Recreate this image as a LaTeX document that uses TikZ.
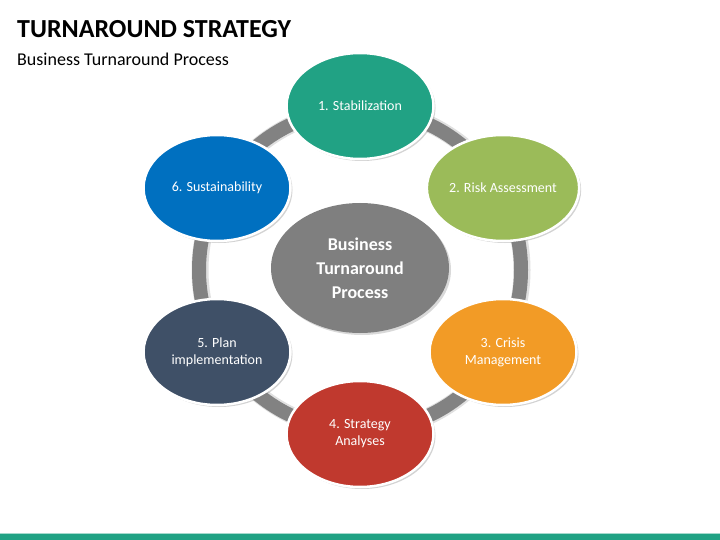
\documentclass[tikz,border=0pt]{standalone}
\usepackage{fontspec}
\setmainfont{Carlito}
\usetikzlibrary{shadows,shapes.geometric}
\definecolor{cteal}{HTML}{21A284}
\definecolor{cgreen}{HTML}{9BBB59}
\definecolor{corange}{HTML}{F29B26}
\definecolor{cred}{HTML}{C0392E}
\definecolor{cslate}{HTML}{3F5067}
\definecolor{cblue}{HTML}{0070C0}
\definecolor{cgray}{HTML}{7F7F7F}
\definecolor{cring}{HTML}{828282}
\tikzset{
  stage/.style={ellipse, draw=white, line width=2.5pt, minimum width=147pt, minimum height=106pt,
    text=white, font=\fontsize{14}{17}\selectfont, align=center, inner sep=0pt,
    drop shadow={opacity=0.35, shadow xshift=2pt, shadow yshift=-2pt}},
  hub/.style={ellipse, fill=cgray, minimum width=178pt, minimum height=130pt,
    text=white, font=\fontsize{18}{24}\selectfont\bfseries, align=center, inner sep=0pt,
    drop shadow={opacity=0.3, shadow xshift=2pt, shadow yshift=-2pt}},
}
\begin{document}
\begin{tikzpicture}[x=1pt,y=-1pt]
\useasboundingbox (0,0) rectangle (720,540);
% title
\node[anchor=base west, inner sep=0pt, font=\fontsize{26}{30}\selectfont\bfseries] (title) at (17,38) {TURNAROUND STRATEGY};
\node[anchor=base west, inner sep=0pt, font=\fontsize{18}{22}\selectfont] (subtitle) at (17,66) {Business Turnaround Process};
% ring
\draw[black!12, line width=17pt] (361,270) circle[radius=161];
\draw[cring, line width=14pt] (360,270) circle[radius=161];
% hub
\node[hub] (hub) at (360,268) {Business\\Turnaround\\Process};
% stages
\node[stage, fill=cteal] (s1) at (360,106) {1. Stabilization};
\node[stage, fill=cgreen] (s2) at (503,188) {2. Risk Assessment};
\node[stage, fill=corange] (s3) at (503,352) {3. Crisis\\Management};
\node[stage, fill=cred] (s4) at (360,434) {4. Strategy\\Analyses};
\node[stage, fill=cslate] (s5) at (217,352) {5. Plan\\implementation};
\node[stage, fill=cblue] (s6) at (217,188) {6. Sustainability};
% bottom bar
\fill[cteal] (0,534) rectangle (720,540);
\fill[cteal!40] (0,533) rectangle (720,534);
\end{tikzpicture}
\end{document}
